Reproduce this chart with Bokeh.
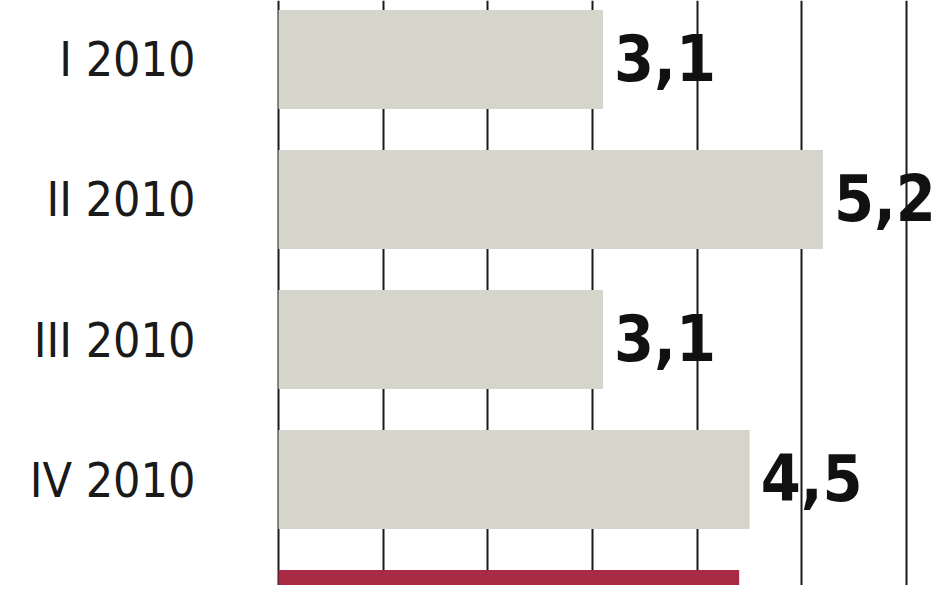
from bokeh.plotting import figure
from bokeh.models import ColumnDataSource, Range1d, FixedTicker, Grid
from bokeh.core.properties import value
from bokeh.embed import file_html
from bokeh.resources import INLINE

categories = ["I 2010", "II 2010", "III 2010", "IV 2010", "I 2011"]
values = [3.1, 5.2, 3.1, 4.5, 4.4]
colors = ["#d5d5cb", "#d5d5cb", "#d5d5cb", "#d5d5cb", "#a82a45"]
grid_ticks = [0, 1, 2, 3, 4, 5, 6]

n = len(categories)
ypos = [n - 1 - i for i in range(n)]
labels = [f"{v:.1f}".replace(".", ",") for v in values]

src = ColumnDataSource(dict(y=ypos, v=values, c=colors, lab=labels))

p = figure(width=940, height=585, output_backend="svg", toolbar_location=None,
           x_axis_type=None, x_range=Range1d(-0.019, 6.323), y_range=Range1d(0.2429, 4.4214),
           min_border_left=276, min_border_right=0, min_border_top=0, min_border_bottom=0)
p.outline_line_color = None
p.background_fill_color = "white"
p.ygrid.visible = False

g = Grid(dimension=0, ticker=FixedTicker(ticks=grid_ticks),
         grid_line_color="#1a1a1a", grid_line_width=2)
p.add_layout(g)

p.hbar(y="y", right="v", left=0, height=0.707, fill_color="c", line_color=None, source=src)

font_bold = "'Liberation Sans Narrow', 'DejaVu Sans Condensed', 'Roboto', sans-serif"
p.text(x="v", y="y", text="lab", source=src, x_offset=11, y_offset=-2,
       text_font=value(font_bold), text_font_style="bold", text_font_size="64px",
       text_color="#111111", text_baseline="middle", text_align="left")

ax = p.yaxis[0]
ax.ticker = FixedTicker(ticks=ypos)
ax.major_label_overrides = {y: c for y, c in zip(ypos, categories)}
ax.axis_line_color = None
ax.major_tick_line_color = None
ax.minor_tick_line_color = None
ax.major_tick_out = 0
ax.major_tick_in = 0
ax.major_label_standoff = 81
ax.major_label_text_font = "'Liberation Sans Narrow', 'DejaVu Sans Condensed', sans-serif"
ax.major_label_text_font_size = "48px"
ax.major_label_text_color = "#1a1a1a"

open("out.html", "w").write(file_html(p, INLINE))
